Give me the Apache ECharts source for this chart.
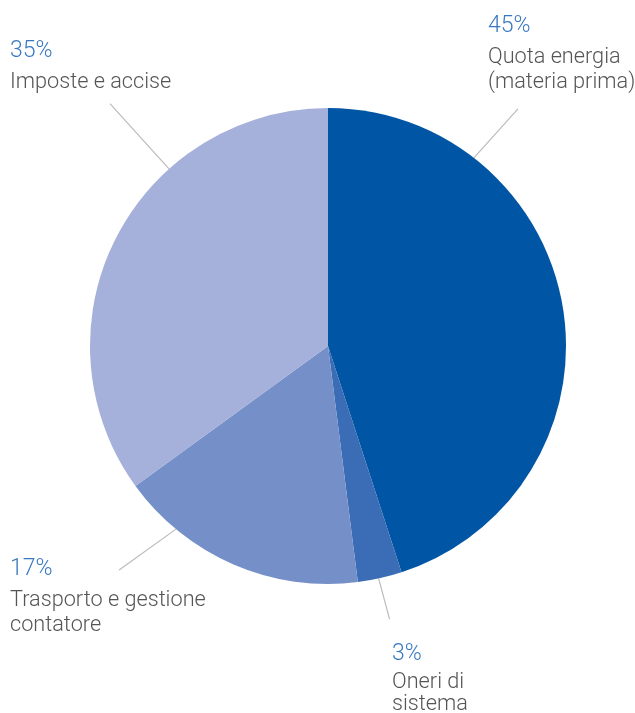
<!DOCTYPE html>
<html>
<head>
<meta charset="utf-8">
<script src="https://cdn.jsdelivr.net/npm/echarts@6/dist/echarts.min.js"></script>
<style>
html,body{margin:0;padding:0;background:#fff;}
#chart{width:635px;height:713px;}
</style>
</head>
<body>
<div id="chart"></div>
<script>
// ---- data ----
const categories = ['Quota energia\n(materia prima)', 'Oneri di\nsistema', 'Trasporto e gestione\ncontatore', 'Imposte e accise'];
const values = [45, 3, 17, 35];

// ---- layout / style ----
const colors = ['#0055A4', '#3B6DB6', '#758FC8', '#A5B1DA'];
const CENTER = [328, 346];
const RADIUS = 238;
// label block top-left positions
const labelPos = [[488, 7], [392, 637], [10, 550], [10, 32]];
// spacing between the percentage line and the name lines, and between name lines
const pctLineHeights = [38, 35, 38, 38];
const nameLineHeights = [25, 22, 25, 25];
// guide lines: start angle on rim, direction angle, length (degrees clockwise from 12 o'clock)
const guides = [[37.8, 41.9, 66], [167.7, 165, 42], [219.7, 234.3, 70], [318.1, 317.8, 88]];

const chart = echarts.init(document.getElementById('chart'), null, {renderer: 'canvas'});
const rad = d => d * Math.PI / 180;

function richFor(i) {
  return {
    p: {fontFamily: 'Roboto', fontWeight: 300, fontSize: 23, color: '#3A79C2', lineHeight: pctLineHeights[i]},
    n: {fontFamily: 'Roboto', fontWeight: 300, fontSize: 21.7, color: '#555555', lineHeight: nameLineHeights[i]}
  };
}

chart.setOption({
  animation: false,
  series: [{
    type: 'pie',
    center: CENTER,
    radius: RADIUS,
    startAngle: 90,
    clockwise: true,
    avoidLabelOverlap: false,
    silent: true,
    data: categories.map((n, i) => ({
      name: n, value: values[i],
      itemStyle: {color: colors[i]},
      label: {rich: richFor(i)}
    })),
    itemStyle: {borderWidth: 0},
    label: {
      show: true,
      position: 'outside',
      formatter: '{p|{c}%}\n{n|{b}}',
      fontFamily: 'Roboto',
      rich: richFor(0)
    },
    labelLine: {show: true, length: 20, length2: 0, lineStyle: {color: '#BBBBBB', width: 1.2}},
    labelLayout: function (params) {
      const i = params.dataIndex;
      const g = guides[i];
      const s = [CENTER[0] + RADIUS * Math.sin(rad(g[0])), CENTER[1] - RADIUS * Math.cos(rad(g[0]))];
      const e = [s[0] + g[2] * Math.sin(rad(g[1])), s[1] - g[2] * Math.cos(rad(g[1]))];
      return {
        x: labelPos[i][0],
        y: labelPos[i][1],
        align: 'left',
        verticalAlign: 'top',
        labelLinePoints: [s, e, e]
      };
    }
  }]
});
</script>
</body>
</html>
